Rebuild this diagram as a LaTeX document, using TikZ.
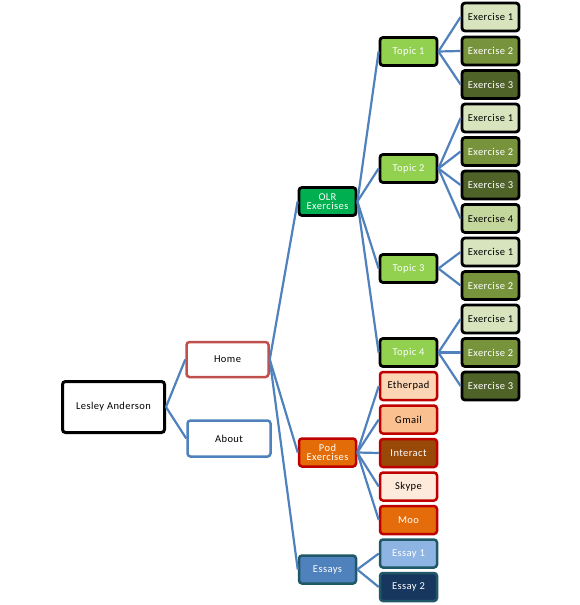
\documentclass[tikz,border=0pt]{standalone}
\usepackage{fontspec}
\setmainfont{Carlito}[LetterSpace=4]
\definecolor{linkblue}{HTML}{4F81BD}
\definecolor{homered}{HTML}{C0504D}
\definecolor{podred}{HTML}{C00000}
\definecolor{olrgreen}{HTML}{00B050}
\definecolor{topicgreen}{HTML}{92D050}
\definecolor{exone}{HTML}{D7E4BD}
\definecolor{extwo}{HTML}{77933C}
\definecolor{exthree}{HTML}{4F6228}
\definecolor{exfour}{HTML}{C3D69B}
\definecolor{podorange}{HTML}{E36C09}
\definecolor{etherfill}{HTML}{FCD5B5}
\definecolor{gmailfill}{HTML}{FAC090}
\definecolor{interfill}{HTML}{984807}
\definecolor{skypefill}{HTML}{FDEADA}
\definecolor{moofill}{HTML}{E46C0A}
\definecolor{essayteal}{HTML}{215868}
\definecolor{essayone}{HTML}{8EB4E3}
\definecolor{essaytwo}{HTML}{17375E}
\begin{document}
\begin{tikzpicture}[x=1pt, y=-1pt, font=\fontsize{10.5}{11.5}\selectfont]

\useasboundingbox (0,0) rectangle (580,605);

\tikzset{box/.style={draw, rounded corners=3pt, inner sep=0pt, align=center, line width=2.5pt}}
\tikzset{smallbox/.style={box, minimum width=57pt, minimum height=28pt}}
\tikzset{exbox/.style={smallbox, draw=black, line width=2.8pt}}
\tikzset{podbox/.style={smallbox, draw=podred}}
\tikzset{essaybox/.style={smallbox, draw=essayteal}}

\node[box, line width=3pt, minimum width=102pt, minimum height=51pt] (lesley) at (113.5, 407) {Lesley Anderson};
\node[box, draw=homered, minimum width=82pt, minimum height=35pt] (home) at (227.5, 359.5) {Home};
\node[box, draw=linkblue, minimum width=83pt, minimum height=36pt] (about) at (229, 438.5) {About};

\node[exbox, fill=olrgreen, text=white] (olr) at (327.5, 201.5) {OLR\\[-2pt]Exercises};
\node[podbox, fill=podorange, text=white] (pod) at (327.5, 452.5) {Pod\\[-2pt]Exercises};
\node[essaybox, fill=linkblue, text=white] (essays) at (327.5, 569.5) {Essays};

\node[exbox, fill=topicgreen, text=white] (topic1) at (408.5, 51.5) {Topic 1};
\node[exbox, fill=topicgreen, text=white] (topic2) at (408.5, 168.5) {Topic 2};
\node[exbox, fill=topicgreen, text=white] (topic3) at (408.5, 268.5) {Topic 3};
\node[exbox, fill=topicgreen, text=white] (topic4) at (408.5, 352.5) {Topic 4};

\node[exbox, fill=exone] (ex11) at (490.5, 17) {Exercise 1};
\node[exbox, fill=extwo, text=white] (ex12) at (490.5, 51) {Exercise 2};
\node[exbox, fill=exthree, text=white] (ex13) at (490.5, 84.5) {Exercise 3};
\node[exbox, fill=exone] (ex21) at (490.5, 118) {Exercise 1};
\node[exbox, fill=extwo, text=white] (ex22) at (490.5, 151.5) {Exercise 2};
\node[exbox, fill=exthree, text=white] (ex23) at (490.5, 185) {Exercise 3};
\node[exbox, fill=exfour] (ex24) at (490.5, 218.5) {Exercise 4};
\node[exbox, fill=exone] (ex31) at (490.5, 252) {Exercise 1};
\node[exbox, fill=extwo, text=white] (ex32) at (490.5, 285.5) {Exercise 2};
\node[exbox, fill=exone] (ex41) at (490.5, 319) {Exercise 1};
\node[exbox, fill=extwo, text=white] (ex42) at (490.5, 352.5) {Exercise 2};
\node[exbox, fill=exthree, text=white] (ex43) at (490.5, 386) {Exercise 3};

\node[podbox, fill=etherfill] (etherpad) at (408.5, 386) {Etherpad};
\node[podbox, fill=gmailfill] (gmail) at (408.5, 419.5) {Gmail};
\node[podbox, fill=interfill, text=white] (interact) at (408.5, 453) {Interact};
\node[podbox, fill=skypefill] (skype) at (408.5, 486.5) {Skype};
\node[podbox, fill=moofill, text=white] (moo) at (408.5, 520) {Moo};

\node[essaybox, fill=essayone, text=white] (essay1) at (408.5, 553.5) {Essay 1};
\node[essaybox, fill=essaytwo, text=white] (essay2) at (408.5, 587) {Essay 2};

\tikzset{link/.style={draw=linkblue, line width=2.2pt}};
\path (lesley.east) edge [link] (home.west);
\path (lesley.east) edge [link] (about.west);
\path (home.east) edge [link] (olr.west);
\path (home.east) edge [link] (pod.west);
\path (home.east) edge [link] (essays.west);
\path (olr.east) edge [link] (topic1.west);
\path (olr.east) edge [link] (topic2.west);
\path (olr.east) edge [link] (topic3.west);
\path (olr.east) edge [link] (topic4.west);
\path (topic1.east) edge [link] (ex11.west);
\path (topic1.east) edge [link] (ex12.west);
\path (topic1.east) edge [link] (ex13.west);
\path (topic2.east) edge [link] (ex21.west);
\path (topic2.east) edge [link] (ex22.west);
\path (topic2.east) edge [link] (ex23.west);
\path (topic2.east) edge [link] (ex24.west);
\path (topic3.east) edge [link] (ex31.west);
\path (topic3.east) edge [link] (ex32.west);
\path (topic4.east) edge [link] (ex41.west);
\path (topic4.east) edge [link] (ex42.west);
\path (topic4.east) edge [link] (ex43.west);
\path (pod.east) edge [link] (etherpad.west);
\path (pod.east) edge [link] (gmail.west);
\path (pod.east) edge [link] (interact.west);
\path (pod.east) edge [link] (skype.west);
\path (pod.east) edge [link] (moo.west);
\path (essays.east) edge [link] (essay1.west);
\path (essays.east) edge [link] (essay2.west);
\end{tikzpicture}
\end{document}
